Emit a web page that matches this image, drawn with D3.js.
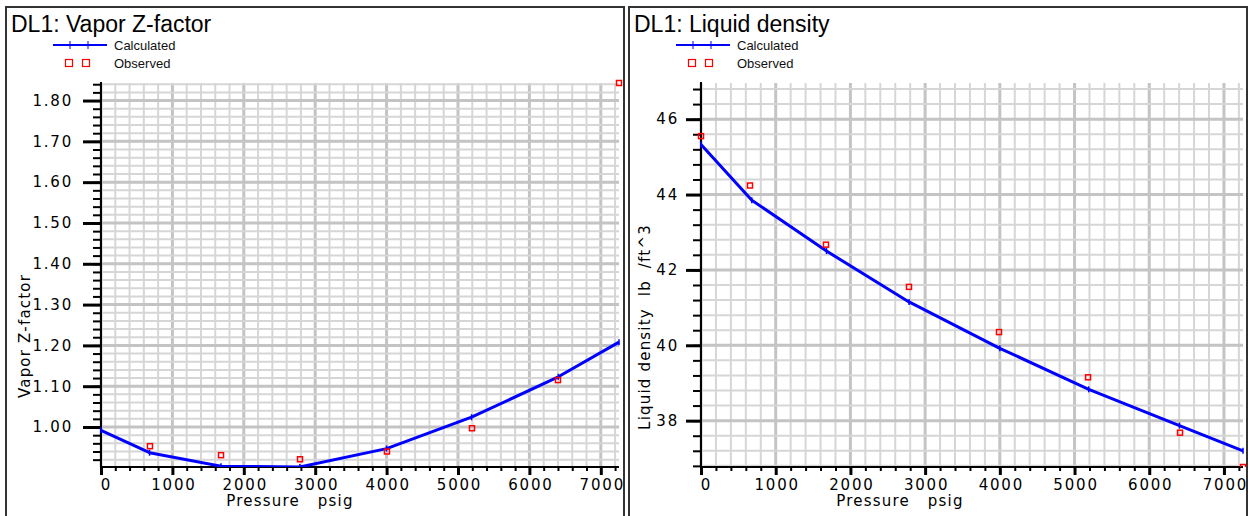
<!DOCTYPE html>
<html><head><meta charset="utf-8">
<script src="https://cdn.jsdelivr.net/npm/d3@7"></script>
<style>
body{margin:0;background:#fff;}
svg{display:block;}
.tick-label{font-family:"DejaVu Sans",sans-serif;font-size:15px;letter-spacing:1.8px;fill:#000;}
.axis-title{font-family:"DejaVu Sans",sans-serif;font-size:15px;letter-spacing:1.2px;fill:#000;}
.title{font-family:"Liberation Sans",Arial,sans-serif;font-size:23px;fill:#000;}
.legend{font-family:"Liberation Sans",Arial,sans-serif;font-size:13px;fill:#111;}
</style>
</head><body>
<svg id="chart" width="1249" height="516"></svg>
<script>
// Differential liberation (DL1) results versus pressure
const calcPressure = [0, 680, 1680, 2785, 4000, 5190, 6405, 7255];
const zCalc        = [0.992, 0.937, 0.904, 0.902, 0.947, 1.024, 1.123, 1.208];
const zObsPressure = [686, 1681, 2787, 4005, 5196, 6400, 7255];
const zObs         = [0.953, 0.931, 0.921, 0.940, 0.997, 1.115, 1.843];
const rhoCalc        = [45.33, 43.85, 42.50, 41.15, 39.92, 38.83, 37.87, 37.20];
const rhoObsPressure = [0, 656, 1673, 2784, 3989, 5181, 6412, 7255];
const rhoObs         = [45.55, 44.24, 42.67, 41.55, 40.35, 39.15, 37.68, 36.77];

const pressureTicks = [0, 1000, 2000, 3000, 4000, 5000, 6000, 7000];
const zTicks   = [1.00, 1.10, 1.20, 1.30, 1.40, 1.50, 1.60, 1.70, 1.80];
const rhoTicks = [38, 40, 42, 44, 46];

const svg = d3.select("#chart");

const panels = [
  {
    title: "DL1: Vapor Z-factor", ylabel: "Vapor Z-factor",
    box: [6, 7, 624, 530],
    plot: {left: 101, right: 619, top: 83, bottom: 467},
    xDomain: [0, 7255], yDomain: [0.902, 1.843],
    yMajor: zTicks, yMinor: d3.range(0.92, 1.845, 0.02), yFmt: d3.format(".2f"),
    yMajorGrid: zTicks,
    calc: calcPressure.map((p, i) => [p, zCalc[i]]),
    obs: zObsPressure.map((p, i) => [p, zObs[i]]),
    majorLen: 18, labelPad: 10, ylabelX: 25, ylabelY: 336, xlabelX: 290
  },
  {
    title: "DL1: Liquid density", ylabel: "Liquid density  lb  /ft^3",
    box: [629, 7, 1247, 530],
    plot: {left: 701, right: 1243, top: 83, bottom: 467},
    xDomain: [0, 7255], yDomain: [36.77, 46.96],
    yMajor: rhoTicks, yMinor: d3.range(36.8, 46.9, 0.4), yFmt: d3.format("d"),
    yMajorGrid: rhoTicks,
    calc: calcPressure.map((p, i) => [p, rhoCalc[i]]),
    obs: rhoObsPressure.map((p, i) => [p, rhoObs[i]]),
    majorLen: 15, labelPad: 7, ylabelX: 645, ylabelY: 327, xlabelX: 900
  }
];

const xMinor = d3.range(0, 7256, 200);

panels.forEach((pn, idx) => {
  const g = svg.append("g");
  const P = pn.plot;
  const x = d3.scaleLinear().domain(pn.xDomain).range([P.left, P.right]);
  const y = d3.scaleLinear().domain(pn.yDomain).range([P.bottom, P.top]);

  // frame
  g.append("rect").attr("x", pn.box[0]).attr("y", pn.box[1])
    .attr("width", pn.box[2] - pn.box[0]).attr("height", pn.box[3] - pn.box[1])
    .attr("fill", "#fff").attr("stroke", "#333").attr("stroke-width", 2);

  // title
  g.append("text").attr("class", "title")
    .attr("x", pn.box[0] + 5).attr("y", 32).text(pn.title);

  // legend
  const lx = pn.box[0] + 47;
  g.append("line").attr("x1", lx).attr("x2", lx + 54).attr("y1", 45).attr("y2", 45)
    .attr("stroke", "#0000ff").attr("stroke-width", 2);
  [lx + 17, lx + 35].forEach(cx => {
    g.append("line").attr("x1", cx).attr("x2", cx).attr("y1", 41).attr("y2", 49)
      .attr("stroke", "#0000ff").attr("stroke-width", 1);
  });
  g.append("text").attr("class", "legend").attr("x", pn.box[0] + 108).attr("y", 50).text("Calculated");
  [lx + 16, lx + 33].forEach(cx => {
    g.append("rect").attr("x", cx - 3.5).attr("y", 59.5).attr("width", 7).attr("height", 7)
      .attr("fill", "none").attr("stroke", "#ff0000").attr("stroke-width", 1.2);
  });
  g.append("text").attr("class", "legend").attr("x", pn.box[0] + 108).attr("y", 68).text("Observed");

  // grid
  const grid = g.append("g");
  grid.selectAll(".vminor").data(xMinor).join("line")
    .attr("x1", d => x(d)).attr("x2", d => x(d)).attr("y1", P.top).attr("y2", P.bottom)
    .attr("stroke", d => d % 1000 === 0 ? "#c4c4c4" : "#d6d6d6")
    .attr("stroke-width", d => d % 1000 === 0 ? 3 : 2);
  grid.selectAll(".hminor").data(pn.yMinor).join("line")
    .attr("x1", P.left).attr("x2", P.right).attr("y1", d => y(d)).attr("y2", d => y(d))
    .attr("stroke", "#d6d6d6").attr("stroke-width", 2);
  grid.selectAll(".hmajor").data(pn.yMajorGrid).join("line")
    .attr("x1", P.left).attr("x2", P.right).attr("y1", d => y(d)).attr("y2", d => y(d))
    .attr("stroke", "#c4c4c4").attr("stroke-width", 3);

  // x axis
  const xa = g.append("g").attr("transform", `translate(0,${P.bottom})`);
  xa.call(d3.axisBottom(x).tickValues(xMinor.filter(d => d % 1000 !== 0)).tickSize(4).tickFormat(""))
    .call(a => a.select(".domain").remove())
    .selectAll("line").attr("stroke", "#000").attr("stroke-width", 2);
  const xaM = g.append("g").attr("transform", `translate(0,${P.bottom})`);
  xaM.call(d3.axisBottom(x).tickValues(pressureTicks).tickSize(8).tickFormat(d3.format("d")))
    .call(a => a.select(".domain").remove());
  xaM.selectAll("line").attr("stroke", "#000").attr("stroke-width", 3);
  xaM.selectAll("text").attr("class", "tick-label").attr("y", 23).attr("dy", 0)
    .attr("dx", d => d === 0 ? 5 : 1)
    .attr("font-family", null).attr("font-size", null).attr("fill", null);
  g.append("line").attr("x1", P.left - 1).attr("x2", P.right).attr("y1", P.bottom).attr("y2", P.bottom)
    .attr("stroke", "#000").attr("stroke-width", 2);

  // y axis
  const ya = g.append("g").attr("transform", `translate(${P.left},0)`);
  ya.call(d3.axisLeft(y).tickValues(pn.yMinor).tickSize(8).tickFormat(""))
    .call(a => a.select(".domain").remove())
    .selectAll("line").attr("stroke", "#000").attr("stroke-width", 2);
  const yaM = g.append("g").attr("transform", `translate(${P.left},0)`);
  yaM.call(d3.axisLeft(y).tickValues(pn.yMajor).tickSize(pn.majorLen).tickPadding(pn.labelPad).tickFormat(pn.yFmt))
    .call(a => a.select(".domain").remove());
  yaM.selectAll("line").attr("stroke", "#000").attr("stroke-width", 3);
  yaM.selectAll("text").attr("class", "tick-label")
    .attr("font-family", null).attr("font-size", null).attr("fill", null);
  g.append("line").attr("x1", P.left).attr("x2", P.left).attr("y1", P.top - 1).attr("y2", P.bottom + 8)
    .attr("stroke", "#000").attr("stroke-width", 2);

  // axis titles
  g.append("text").attr("class", "axis-title").attr("text-anchor", "middle")
    .attr("x", pn.xlabelX).attr("y", 506).style("white-space", "pre").text("Pressure   psig");
  g.append("text").attr("class", "axis-title").attr("text-anchor", "middle")
    .attr("transform", `translate(${pn.ylabelX},${pn.ylabelY}) rotate(-90)`)
    .attr("dy", "0.35em").style("white-space", "pre").text(pn.ylabel);

  // clip for data marks
  const cid = "clip" + idx;
  svg.append("clipPath").attr("id", cid).append("rect")
    .attr("x", P.left - 4).attr("y", P.top - 4)
    .attr("width", P.right - P.left + 8).attr("height", P.bottom - P.top + 4);

  const marks = g.append("g").attr("clip-path", `url(#${cid})`);
  const line = d3.line().x(d => x(d[0])).y(d => y(d[1]));
  marks.append("path").datum(pn.calc).attr("d", line)
    .attr("fill", "none").attr("stroke", "#0000ff").attr("stroke-width", 3)
    .attr("stroke-linejoin", "round");
  marks.selectAll(".vtx").data(pn.calc).join("line")
    .attr("x1", d => x(d[0])).attr("x2", d => x(d[0]))
    .attr("y1", d => y(d[1]) - 3).attr("y2", d => y(d[1]) + 3)
    .attr("stroke", "#0000ff").attr("stroke-width", 1.5);
  marks.selectAll(".obs").data(pn.obs).join("rect")
    .attr("x", d => x(d[0]) - 2.5).attr("y", d => y(d[1]) - 2.5)
    .attr("width", 5).attr("height", 5)
    .attr("fill", "none").attr("stroke", "#ff0000").attr("stroke-width", 1.5);
});
</script>
</body></html>
